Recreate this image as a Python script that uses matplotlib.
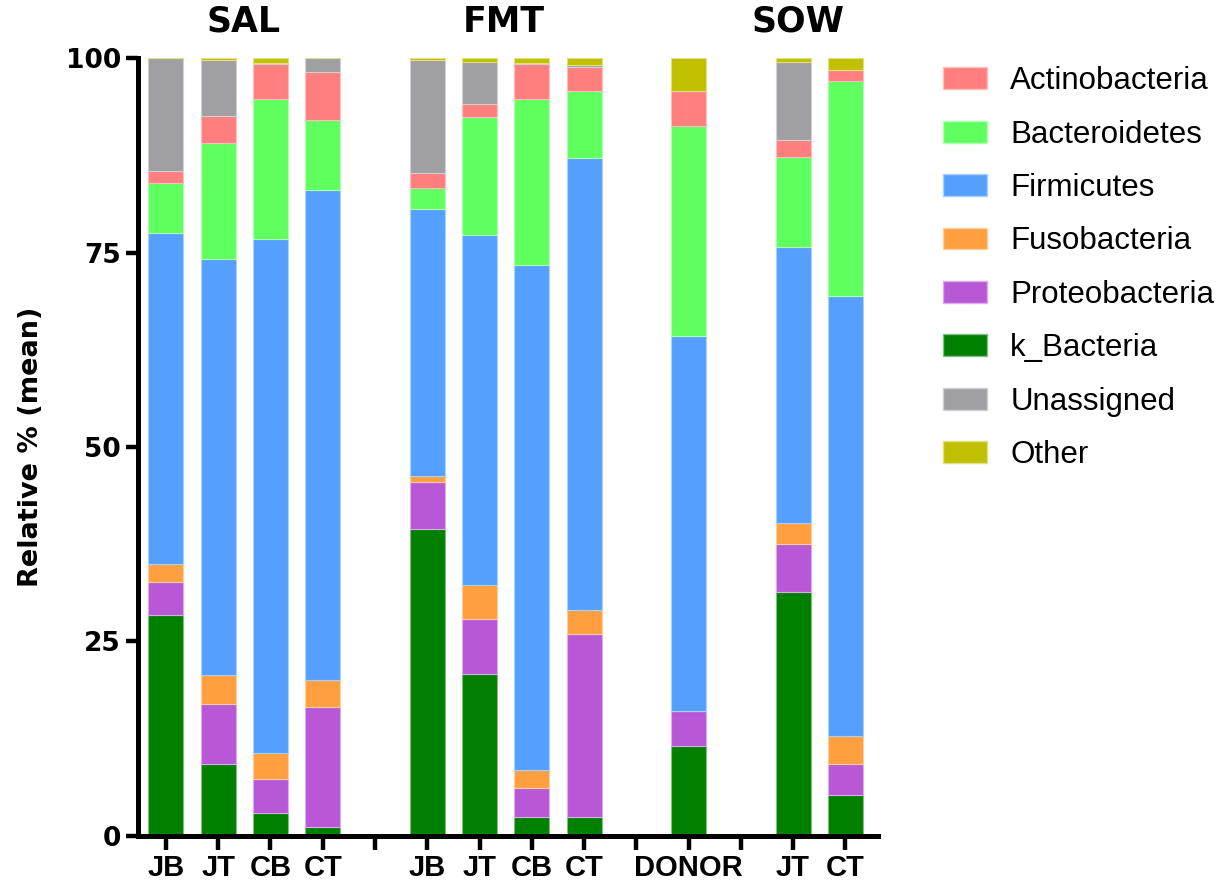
import matplotlib
matplotlib.use("Agg")
import matplotlib.pyplot as plt
import matplotlib.colors as mcolors
from matplotlib.patches import Patch
import numpy as np

# slots along x; blank strings are empty gap positions between groups
slot_labels = ["JB", "JT", "CB", "CT", "", "JB", "JT", "CB", "CT", "", "DONOR", "", "JT", "CT"]
bar_slots = [0, 1, 2, 3, 5, 6, 7, 8, 10, 12, 13]

# stacked segments (% of total), bottom to top, one value per bar
k_bacteria = [28.4, 9.3, 2.9, 1.1, 39.5, 20.8, 2.4, 2.4, 11.6, 31.3, 5.2]
proteo = [4.2, 7.7, 4.4, 15.5, 6.0, 7.1, 3.8, 23.6, 4.4, 6.2, 4.0]
fuso = [2.4, 3.7, 3.4, 3.5, 0.8, 4.3, 2.3, 3.0, 0.0, 2.7, 3.6]
firmicutes = [42.5, 53.5, 66.0, 63.0, 34.3, 45.1, 64.9, 58.1, 48.3, 35.5, 56.6]
bacteroidetes = [6.4, 14.9, 18.1, 8.9, 2.7, 15.1, 21.4, 8.7, 27.0, 11.6, 27.7]
actino = [1.6, 3.5, 4.5, 6.2, 1.9, 1.7, 4.4, 3.1, 4.5, 2.2, 1.4]
unassigned = [14.5, 7.1, 0.1, 1.8, 14.6, 5.4, 0.2, 0.2, 0.0, 10.0, 0.0]
other = [0.0, 0.3, 0.6, 0.0, 0.2, 0.5, 0.6, 0.9, 4.2, 0.5, 1.5]

stack = [
    ("k_Bacteria", k_bacteria, "#007F00"),
    ("Proteobacteria", proteo, "#B858D6"),
    ("Fusobacteria", fuso, "#FF9F40"),
    ("Firmicutes", firmicutes, "#55A0FF"),
    ("Bacteroidetes", bacteroidetes, "#60FF60"),
    ("Actinobacteria", actino, "#FF7F7F"),
    ("Unassigned", unassigned, "#A09FA4"),
    ("Other", other, "#C0C000"),
]
legend_order = ["Actinobacteria", "Bacteroidetes", "Firmicutes", "Fusobacteria",
                "Proteobacteria", "k_Bacteria", "Unassigned", "Other"]

groups = [("SAL", 1.48), ("FMT", 6.47), ("SOW", 12.1)]


def lighter(c, f=0.5):
    r, g, b = mcolors.to_rgb(c)
    return (r + (1 - r) * f, g + (1 - g) * f, b + (1 - b) * f)


def main():
    fig = plt.figure(figsize=(12.3, 8.94), dpi=100)
    ax = fig.add_axes([0.112, 0.065, 0.602, 0.870])

    bottom = np.zeros(len(bar_slots))
    colors = {}
    for name, vals, col in stack:
        vals = np.array(vals)
        ax.bar(bar_slots, vals, bottom=bottom, width=0.67, color=col,
               edgecolor=lighter(col), linewidth=0.8, zorder=2)
        bottom += vals
        colors[name] = col

    ax.set_xlim(-0.54, 13.63)
    ax.set_ylim(0, 100)
    ax.set_yticks([0, 25, 50, 75, 100])
    ax.set_xticks(range(len(slot_labels)))
    ax.set_xticklabels(slot_labels, fontsize=21, fontweight="bold",
                       family="Liberation Sans")
    for lab in ax.get_yticklabels():
        lab.set_fontsize(19)
        lab.set_fontweight("bold")
        lab.set_family("DejaVu Sans")

    for s in ["top", "right"]:
        ax.spines[s].set_visible(False)
    for s in ["left", "bottom"]:
        ax.spines[s].set_linewidth(3.6)
    ax.tick_params(axis="y", length=9, width=3.2, pad=3)
    ax.tick_params(axis="x", length=10, width=3.2, pad=3)

    ax.set_ylabel("Relative % (mean)", fontsize=19.5, fontweight="bold",
                  family="DejaVu Sans", labelpad=16)

    for name, xpos in groups:
        ax.text(xpos, 1.047, name, transform=ax.get_xaxis_transform(),
                ha="center", va="center", fontsize=25, fontweight="bold",
                family="DejaVu Sans")

    handles = [Patch(facecolor=colors[n], edgecolor=lighter(colors[n]), label=n)
               for n in legend_order]
    fig.legend(handles=handles, loc="upper left",
               bbox_to_anchor=(0.7565, 0.94), frameon=False,
               prop={"family": "Liberation Sans", "size": 22.5},
               handlelength=1.4, handleheight=0.7, handletextpad=0.75,
               labelspacing=0.75, borderaxespad=0)

    fig.savefig("out.png", dpi=100)


if __name__ == '__main__':
    main()
